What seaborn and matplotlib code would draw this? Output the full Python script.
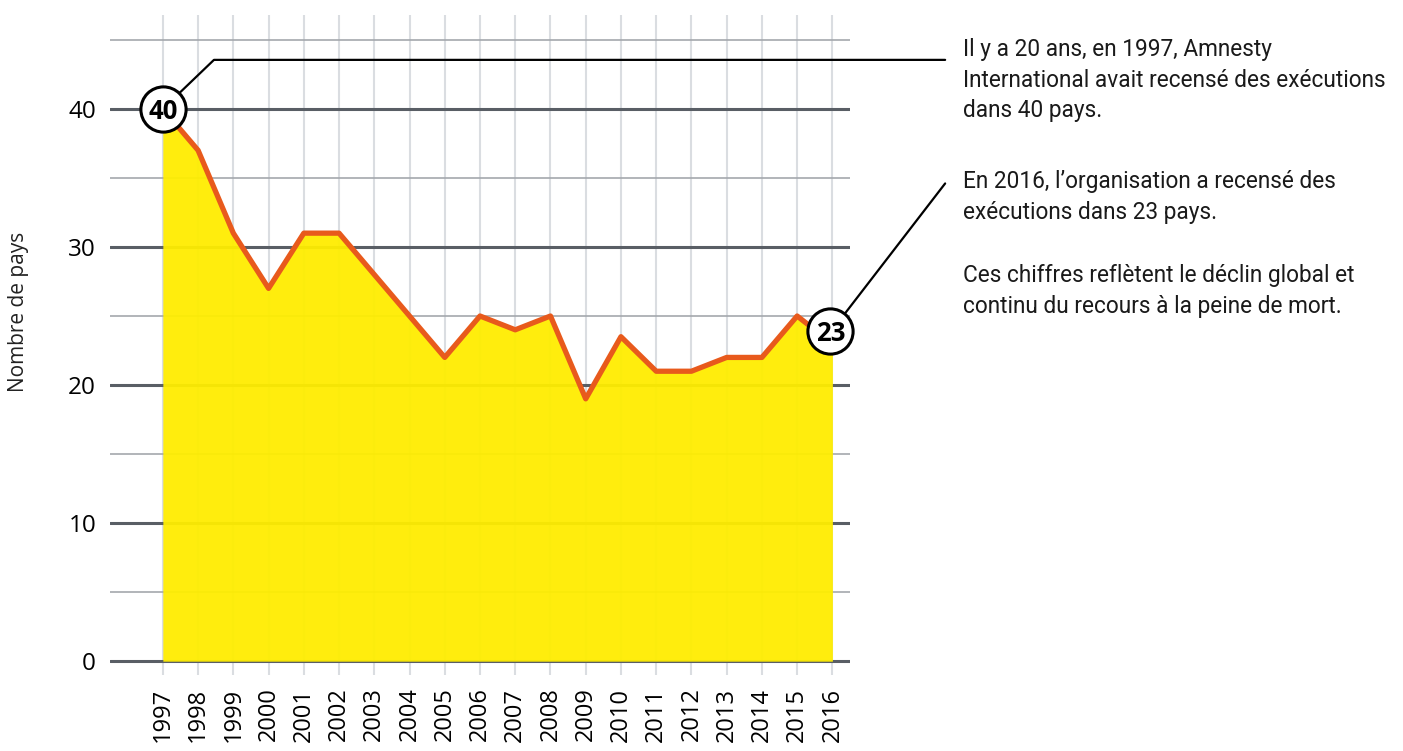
import pandas as pd
import matplotlib
matplotlib.use("Agg")
import matplotlib.pyplot as plt
import matplotlib.transforms as mtransforms
import seaborn as sns

# ------------------------------------------------------------------
# Données : nombre de pays ayant procédé à des exécutions (Amnesty)
# ------------------------------------------------------------------
annees = list(range(1997, 2017))
nb_pays = [40, 37, 31, 27, 31, 31, 28, 25, 22, 25, 24, 25, 19, 23.5, 21, 21, 22, 22, 25, 23]
graduations_majeures = [0, 10, 20, 30, 40]
graduations_mineures = [5, 15, 25, 35, 45]

texte_1 = "Il y a 20 ans, en 1997, Amnesty\nInternational avait recensé des exécutions\ndans 40 pays."
texte_2 = "En 2016, l\u2019organisation a recensé des\nexécutions dans 23 pays."
texte_3 = "Ces chiffres reflètent le déclin global et\ncontinu du recours à la peine de mort."

JAUNE = "#FFED00"
ORANGE = "#E85A1C"
GRIS_FONCE = "#595E65"
GRIS_MOYEN = "#A4A8AD"
GRIS_CLAIR = "#DADDE1"

sns.set_style("white")
plt.rcParams["font.family"] = ["Open Sans", "DejaVu Sans"]

df = pd.DataFrame({"annee": annees, "pays": nb_pays})

W, H = 1403, 751
fig = plt.figure(figsize=(W / 100, H / 100), dpi=100)
ax = fig.add_axes([110 / W, 1 - 675 / H, 740 / W, 660 / H])

# grille
for a in annees:
    ax.axvline(a, color=GRIS_CLAIR, lw=1.5, zorder=0)
for g in graduations_mineures:
    ax.axhline(g, color=GRIS_MOYEN, lw=1.2, zorder=1)
for g in graduations_majeures:
    ax.axhline(g, color=GRIS_FONCE, lw=2.2, zorder=1)

# aire + courbe
ax.fill_between(df["annee"], 0, df["pays"], color=JAUNE, alpha=0.95, lw=0, zorder=2)
sns.lineplot(data=df, x="annee", y="pays", color=ORANGE, lw=3.8, ax=ax, zorder=3)

ax.set_xlim(1995.5, 2016.5)
ax.set_ylim(-1.0, 46.8)
ax.set_xticks(annees)
ax.set_xticklabels([str(a) for a in annees], rotation=90, fontsize=17, color="black")
ax.set_yticks(graduations_majeures)
ax.set_yticklabels([str(g) for g in graduations_majeures], fontsize=17.5, color="black")
ax.tick_params(axis="x", length=0, pad=9)
ax.tick_params(axis="y", length=0, pad=10)
ax.set_xlabel("")
ax.set_ylabel("Nombre de pays", fontsize=15, color="#222222")
ax.yaxis.set_label_coords(-0.11, 0.55)
sns.despine(ax=ax, left=True, bottom=True)

# traits de rappel vers les textes
x_fin = 2019.2
ax.plot([annees[0], 1998.45, x_fin], [nb_pays[0], 43.55, 43.55],
        color="black", lw=1.6, clip_on=False, zorder=4)
ax.plot([annees[-1], x_fin], [nb_pays[-1] + 1, 34.6],
        color="black", lw=1.6, clip_on=False, zorder=4)

# pastilles
decalage = mtransforms.offset_copy(ax.transData, fig=fig, x=-2, y=13, units="dots")
for x, y, tr in [(annees[0], nb_pays[0], ax.transData), (annees[-1], nb_pays[-1], decalage)]:
    ax.scatter([x], [y], s=1060, facecolor="white", edgecolor="black", linewidth=2.2,
               transform=tr, zorder=5, clip_on=False)
    ax.text(x, y, f"{y:g}", transform=tr, ha="center", va="center_baseline",
            fontsize=18.5, fontweight="bold", color="black", zorder=6, clip_on=False)

# textes explicatifs
police_txt = ["Roboto", "DejaVu Sans"]
for txt, top in [(texte_1, 38), (texte_2, 170), (texte_3, 264)]:
    fig.text(963 / W, 1 - top / H, txt, ha="left", va="top", fontsize=16.3,
             family=police_txt, linespacing=1.42, color="#1a1a1a")

fig.savefig("out.png", dpi=100)
